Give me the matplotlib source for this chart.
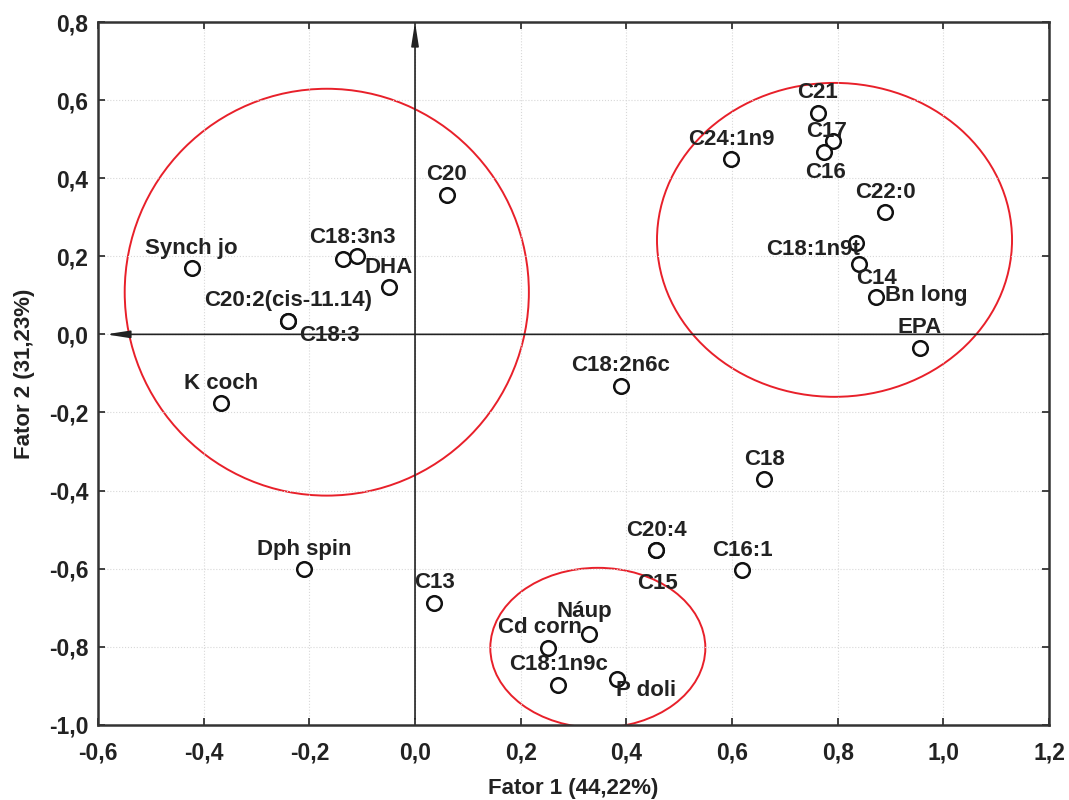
import numpy as np
import matplotlib
matplotlib.use("Agg")
import matplotlib.pyplot as plt
from matplotlib.patches import Ellipse

plt.rcParams['font.family'] = ['Liberation Sans', 'DejaVu Sans']
plt.rcParams['font.weight'] = 'bold'

# factor loadings
names = ["Synch jo", "C18:3n3", "", "DHA", "C20", "C20:2(cis-11.14)", "C18:3",
         "K coch", "Dph spin", "C13", "C18", "C20:4", "C15", "C16:1", "Náup",
         "Cd corn", "C18:1n9c", "P doli", "C21", "C17", "C16", "C24:1n9",
         "C22:0", "C18:1n9t", "C14", "Bn long", "EPA", "C18:2n6c"]
f1 = [-0.423, -0.137, -0.110, -0.050, 0.060, -0.241, -0.241,
      -0.368, -0.210, 0.036, 0.661, 0.457, 0.457, 0.619, 0.330,
      0.252, 0.271, 0.383, 0.762, 0.792, 0.775, 0.598,
      0.890, 0.835, 0.841, 0.873, 0.955, 0.389]
f2 = [0.169, 0.192, 0.200, 0.121, 0.357, 0.035, 0.035,
      -0.176, -0.601, -0.688, -0.371, -0.553, -0.553, -0.604, -0.767,
      -0.803, -0.897, -0.882, 0.568, 0.496, 0.468, 0.449,
      0.313, 0.234, 0.180, 0.095, -0.034, -0.131]

# label offsets in pixels (dx, dy) and alignment
offsets = {
    "C18:3n3": (10, 22, 'center'),
    "C18:3": (42, -15, 'center'),
    "C17": (-7, 9, 'center'),
    "C16": (1, -21, 'center'),
    "C15": (1, -33, 'center'),
    "C18:1n9t": (-43, -7, 'center'),
    "C14": (17, -14, 'center'),
    "Bn long": (9, 2, 'left'),
    "P doli": (29, -12, 'center'),
    "Cd corn": (-8, 20, 'center'),
    "Náup": (-5, 22, 'center'),
}

# groups (center x, center y, width, height)
groups_x = [-0.167, 0.794, 0.346]
groups_y = [0.108, 0.242, -0.803]
groups_w = [0.765, 0.672, 0.407]
groups_h = [1.042, 0.804, 0.410]

fig = plt.figure(figsize=(10.69, 8.0), dpi=100)
ax = fig.add_axes([0.0917, 0.094, 0.8896, 0.8785])

ax.set_xlim(-0.6, 1.2)
ax.set_ylim(-1.0, 0.8)
xt = np.arange(-0.6, 1.21, 0.2)
yt = np.arange(-1.0, 0.81, 0.2)
ax.set_xticks(xt)
ax.set_yticks(yt)
ax.set_xticklabels([f"{v:.1f}".replace('.', ',').replace('-0,0', '0,0') for v in xt])
ax.set_yticklabels([f"{v:.1f}".replace('.', ',').replace('-0,0', '0,0') for v in yt])
ax.tick_params(direction='in', top=True, right=True, length=5, width=1.2,
               labelsize=16.5, colors='#222222')
ax.tick_params(axis='x', pad=12)
ax.tick_params(axis='y', pad=7)
ax.grid(True, color='#d8d8d8', linestyle=':', linewidth=0.8)
for s in ax.spines.values():
    s.set_linewidth(1.8)
    s.set_color('#333333')

# axes arrows
ax.annotate('', xy=(0, 0.8), xytext=(0, -0.985),
            arrowprops=dict(arrowstyle='-|>,head_length=1.4,head_width=0.22',
                            color='#222222', lw=1.2, shrinkA=0, shrinkB=0))
ax.annotate('', xy=(-0.585, 0), xytext=(1.19, 0),
            arrowprops=dict(arrowstyle='-|>,head_length=1.4,head_width=0.22',
                            color='#222222', lw=1.2, shrinkA=0, shrinkB=0))

for cx, cy, w, h in zip(groups_x, groups_y, groups_w, groups_h):
    ax.add_patch(Ellipse((cx, cy), w, h, fill=False, edgecolor='#e8202a', lw=1.4))

ax.plot(f1, f2, 'o', markersize=10.5, markerfacecolor='white',
        markeredgecolor='#111111', markeredgewidth=1.8, linestyle='none', zorder=5)

for name, x, y in zip(names, f1, f2):
    if not name:
        continue
    dx, dy, ha = offsets.get(name, (0, 20, 'center'))
    ax.annotate(name, (x, y), xytext=(dx, dy), textcoords='offset pixels',
                ha=ha, va='center', fontsize=16, fontweight='bold',
                color='#222222', zorder=6)

ax.set_xlabel("Fator 1 (44,22%)", fontsize=16, fontweight='bold', labelpad=10, color='#222222')
ax.set_ylabel("Fator 2 (31,23%)", fontsize=16, fontweight='bold', labelpad=10, color='#222222')

fig.savefig("out.png", dpi=100)
